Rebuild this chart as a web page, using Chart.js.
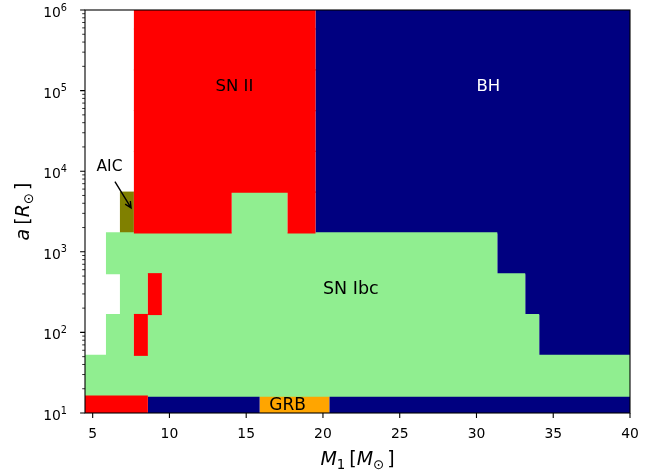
<!DOCTYPE html>
<html>
<head>
<meta charset="utf-8">
<script src="https://cdn.jsdelivr.net/npm/chart.js@4.4.0/dist/chart.umd.min.js"></script>
<style>
  html, body { margin: 0; padding: 0; background: #ffffff; }
  canvas { display: block; }
</style>
</head>
<body>
<canvas id="outcomes" width="665" height="474"></canvas>
<script>
// Primary mass grid: column centres in solar masses
const massCentres = [
  4.5, 5.41, 6.32, 7.23, 8.14, 9.05, 9.96, 10.87, 11.78, 12.69,
  13.6, 14.51, 15.42, 16.33, 17.24, 18.15, 19.06, 19.97, 20.88, 21.79,
  22.71, 23.62, 24.53, 25.44, 26.35, 27.26, 28.17, 29.08, 29.99, 30.9,
  31.81, 32.72, 33.63, 34.54, 35.45, 36.36, 37.27, 38.18, 39.09, 40.0
];

// Orbital separation grid: row centres in solar radii, bottom row first
const separationCentres = [9.06, 29.0, 93.1, 298.6, 957, 3069, 9840, 31550, 101200, 324400, 1040000];

// Outcome along each separation row, as runs of [class, number of mass columns]
// '.' = no outcome, A = AIC, R = SN II, G = SN Ibc, B = BH, O = GRB
const outcomeRuns = [
  [['R', 5], ['B', 8], ['O', 5], ['B', 22]],
  [['G', 40]],
  [['.', 2], ['G', 2], ['R', 1], ['G', 28], ['B', 7]],
  [['.', 3], ['G', 2], ['R', 1], ['G', 26], ['B', 8]],
  [['.', 2], ['G', 28], ['B', 10]],
  [['.', 3], ['A', 1], ['R', 7], ['G', 4], ['R', 2], ['B', 23]],
  [['.', 4], ['R', 13], ['B', 23]],
  [['.', 4], ['R', 13], ['B', 23]],
  [['.', 4], ['R', 13], ['B', 23]],
  [['.', 4], ['R', 13], ['B', 23]],
  [['.', 4], ['R', 13], ['B', 23]]
];

const outcomeClasses = ['R', 'G', 'B', 'O', 'A'];
const outcomeNames = { A: 'AIC', R: 'SN II', G: 'SN Ibc', B: 'BH', O: 'GRB' };
const outcomeColours = { A: '#808000', R: '#ff0000', G: '#90ee90', B: '#000080', O: '#ffa500' };

const massTicks = [5, 10, 15, 20, 25, 30, 35, 40];
const separationTicks = [10, 100, 1000, 10000, 100000, 1000000];

// Region labels placed in data coordinates (mass, separation)
const regionLabels = [
  { text: 'SN II', m: 13, a: 1e5, colour: '#000000', size: 16.5 },
  { text: 'BH', m: 30, a: 1e5, colour: '#ffffff', size: 16.5 },
  { text: 'SN Ibc', m: 20, a: 300, colour: '#000000', size: 17.5 },
  { text: 'GRB', m: 16.5, a: 11, colour: '#000000', size: 17 },
  { text: 'AIC', m: 5.25, a: 1e4, colour: '#000000', size: 15.5 }
];
const aicArrow = { from: [6.45, 7400], to: [7.5, 3500] };

// Column edges half-way between neighbouring mass centres
const massEdges = [];
massEdges.push(massCentres[0] - (massCentres[1] - massCentres[0]) / 2);
for (let i = 0; i < massCentres.length - 1; i++) {
  massEdges.push((massCentres[i] + massCentres[i + 1]) / 2);
}
const nM = massCentres.length;
massEdges.push(massCentres[nM - 1] + (massCentres[nM - 1] - massCentres[nM - 2]) / 2);

// One floating-bar dataset per outcome class; each run becomes one horizontal bar
const barsByClass = {};
outcomeClasses.forEach(c => { barsByClass[c] = []; });
outcomeRuns.forEach((runs, row) => {
  let col = 0;
  runs.forEach(([cls, count]) => {
    if (cls !== '.') {
      barsByClass[cls].push({ y: separationCentres[row], x: [massEdges[col], massEdges[col + count]] });
    }
    col += count;
  });
});
const datasets = outcomeClasses.map(c => ({
  label: outcomeNames[c],
  data: barsByClass[c],
  backgroundColor: outcomeColours[c],
  borderWidth: 0,
  grouped: false,
  categoryPercentage: 1,
  barPercentage: 1.03
}));

const FONT = '"DejaVu Sans", "Liberation Sans", sans-serif';
const TICK_SIZE = 13.9;
const TITLE_SIZE = 19;

// Draw a run of text pieces (italic / subscript) centred on cx
function drawMathText(ctx, pieces, cx, baseline, size) {
  const fontFor = p => (p.italic ? 'italic ' : '') + (p.sub ? size * 0.7 : size) + 'px ' + FONT;
  let total = 0;
  pieces.forEach(p => {
    if (p.gap) { total += p.gap; return; }
    ctx.font = fontFor(p);
    total += ctx.measureText(p.t).width;
  });
  let x = cx - total / 2;
  ctx.textAlign = 'left';
  ctx.textBaseline = 'alphabetic';
  pieces.forEach(p => {
    if (p.gap) { x += p.gap; return; }
    ctx.font = fontFor(p);
    ctx.fillText(p.t, x, baseline + (p.sub ? size * 0.22 : 0));
    x += ctx.measureText(p.t).width;
  });
}

const overlay = {
  id: 'overlay',
  afterDatasetsDraw(chart) {
    const { ctx, chartArea: ca, scales: { x, y } } = chart;
    ctx.save();

    // Region names
    ctx.textAlign = 'left';
    ctx.textBaseline = 'alphabetic';
    regionLabels.forEach(l => {
      ctx.font = l.size + 'px ' + FONT;
      ctx.fillStyle = l.colour;
      ctx.fillText(l.text, x.getPixelForValue(l.m), y.getPixelForValue(l.a));
    });

    // Arrow pointing at the AIC cell
    const x0 = x.getPixelForValue(aicArrow.from[0]), y0 = y.getPixelForValue(aicArrow.from[1]);
    const x1 = x.getPixelForValue(aicArrow.to[0]), y1 = y.getPixelForValue(aicArrow.to[1]);
    const ang = Math.atan2(y1 - y0, x1 - x0);
    const head = 7, spread = 0.45;
    ctx.strokeStyle = '#000000';
    ctx.lineWidth = 1.4;
    ctx.beginPath();
    ctx.moveTo(x0, y0);
    ctx.lineTo(x1, y1);
    ctx.moveTo(x1 - head * Math.cos(ang - spread), y1 - head * Math.sin(ang - spread));
    ctx.lineTo(x1, y1);
    ctx.lineTo(x1 - head * Math.cos(ang + spread), y1 - head * Math.sin(ang + spread));
    ctx.stroke();

    // Axes frame
    ctx.lineWidth = 1.1;
    ctx.strokeRect(ca.left, ca.top, ca.right - ca.left, ca.bottom - ca.top);

    // Tick marks
    ctx.beginPath();
    massTicks.forEach(v => {
      const px = x.getPixelForValue(v);
      ctx.moveTo(px, ca.bottom);
      ctx.lineTo(px, ca.bottom + 4.9);
    });
    separationTicks.forEach(v => {
      const py = y.getPixelForValue(v);
      ctx.moveTo(ca.left, py);
      ctx.lineTo(ca.left - 4.9, py);
    });
    ctx.stroke();
    ctx.lineWidth = 0.8;
    ctx.beginPath();
    for (let e = 1; e < 6; e++) {
      for (let k = 2; k <= 9; k++) {
        const py = y.getPixelForValue(k * Math.pow(10, e));
        ctx.moveTo(ca.left, py);
        ctx.lineTo(ca.left - 2.8, py);
      }
    }
    ctx.stroke();

    // Separation tick labels as powers of ten
    ctx.fillStyle = '#000000';
    ctx.textAlign = 'right';
    ctx.textBaseline = 'alphabetic';
    separationTicks.forEach(v => {
      const py = y.getPixelForValue(v);
      const expText = String(Math.round(Math.log10(v)));
      const right = ca.left - 18;
      ctx.font = (TICK_SIZE * 0.7) + 'px ' + FONT;
      const expW = ctx.measureText(expText).width;
      ctx.fillText(expText, right, py + 7 - 6.5);
      ctx.font = TICK_SIZE + 'px ' + FONT;
      ctx.fillText('10', right - expW, py + 7);
    });
    ctx.restore();
  },
  afterDraw(chart) {
    const { ctx, chartArea: ca } = chart;
    ctx.save();
    ctx.fillStyle = '#000000';
    // x-axis title: M_1 [M_sun]
    drawMathText(ctx, [
      { t: 'M', italic: true }, { t: '1', sub: true }, { gap: 4 },
      { t: '[' }, { t: 'M', italic: true }, { t: '\u2299', sub: true }, { gap: 3 }, { t: ']' }
    ], (ca.left + ca.right) / 2, 465, TITLE_SIZE);
    // y-axis title: a [R_sun]
    ctx.translate(29, (ca.top + ca.bottom) / 2);
    ctx.rotate(-Math.PI / 2);
    drawMathText(ctx, [
      { t: 'a', italic: true }, { gap: 4 },
      { t: '[' }, { t: 'R', italic: true }, { t: '\u2299', sub: true }, { gap: 3 }, { t: ']' }
    ], 0, 0, TITLE_SIZE);
    ctx.restore();
  }
};

Chart.defaults.font.family = FONT;
Chart.defaults.font.size = TICK_SIZE;
Chart.defaults.color = '#000000';

new Chart(document.getElementById('outcomes'), {
  type: 'bar',
  data: { datasets },
  options: {
    indexAxis: 'y',
    responsive: false,
    animation: false,
    devicePixelRatio: 1,
    layout: { padding: { top: 10, right: 35, left: 0, bottom: 0 } },
    plugins: { legend: { display: false }, tooltip: { enabled: false } },
    scales: {
      x: {
        type: 'linear',
        min: 4.5,
        max: 40,
        grid: { display: false, drawTicks: false },
        border: { display: false },
        afterBuildTicks: s => { s.ticks = massTicks.map(v => ({ value: v })); },
        afterFit: s => { s.height = 61; s.paddingLeft = 0; s.paddingRight = 0; },
        ticks: { padding: 13, maxRotation: 0, autoSkip: false, callback: v => String(v) }
      },
      y: {
        type: 'logarithmic',
        min: 10,
        max: 1e6,
        grid: { display: false, drawTicks: false },
        border: { display: false },
        afterBuildTicks: s => { s.ticks = separationTicks.map(v => ({ value: v })); },
        afterFit: s => { s.width = 85; s.paddingTop = 0; s.paddingBottom = 0; },
        ticks: { display: false }
      }
    }
  },
  plugins: [overlay]
});
</script>
</body>
</html>
